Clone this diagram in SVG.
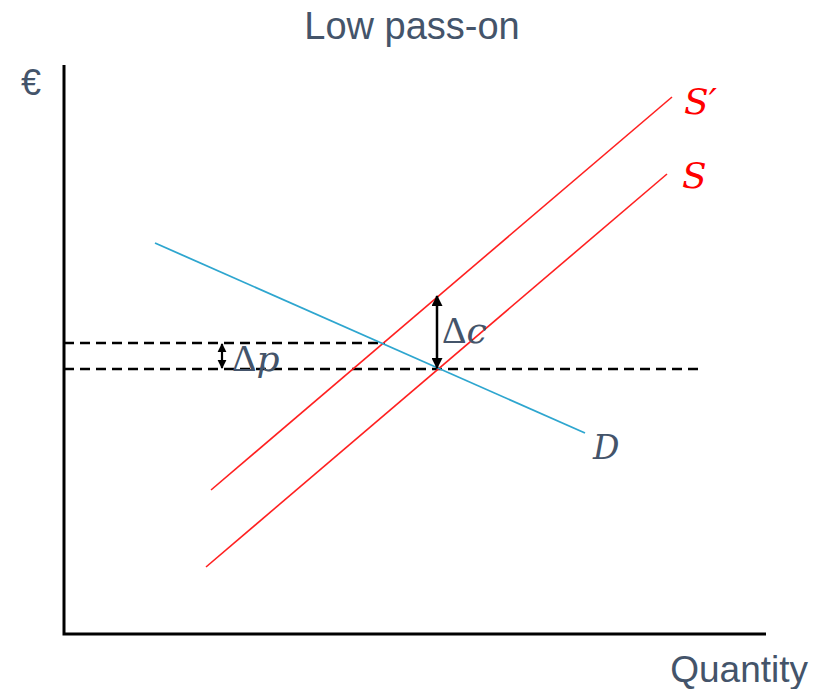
<svg xmlns="http://www.w3.org/2000/svg" width="817" height="689" viewBox="0 0 817 689">
<defs>
<style>
.lbl{font-family:"Liberation Sans",Arial,sans-serif;fill:#44546A;}
.math{font-family:"DejaVu Serif","Liberation Serif",serif;font-style:italic;}
.red{stroke:#FF2020;stroke-width:1.6;fill:none;}
.dash{stroke:#000;stroke-width:2.4;stroke-dasharray:10,6;fill:none;}
</style>
<marker id="ah" viewBox="0 0 10 10" refX="9" refY="5" markerWidth="5" markerHeight="4.4" orient="auto-start-reverse" markerUnits="strokeWidth">
<path d="M0,0 L10,5 L0,10 z" fill="#000"/>
</marker>
<marker id="ahs" viewBox="0 0 10 10" refX="9" refY="5" markerWidth="4" markerHeight="4.5" orient="auto-start-reverse" markerUnits="strokeWidth">
<path d="M0,0 L10,5 L0,10 z" fill="#000"/>
</marker>
</defs>
<rect width="817" height="689" fill="#fff"/>
<g id="title"><text class="lbl" x="412" y="39" font-size="38" text-anchor="middle">Low pass-on</text></g>
<g id="axes">
<path d="M64,65 V634 H766" stroke="#000" stroke-width="3" fill="none"/>
<text class="lbl" x="21" y="95" font-size="36">€</text>
<text class="lbl" x="808" y="682" font-size="37" text-anchor="end">Quantity</text>
</g>
<g id="connectors">
<line class="dash" x1="64" y1="343" x2="385" y2="343"/>
<line class="dash" x1="64" y1="369" x2="703" y2="369"/>
<line id="Sprime-line" class="red" x1="211" y1="490" x2="672" y2="97"/>
<line id="S-line" class="red" x1="206" y1="567" x2="667" y2="174"/>
<line id="D-line" x1="155" y1="243" x2="585" y2="433" stroke="#2EA6CF" stroke-width="1.8"/>
<line x1="437" y1="296" x2="437" y2="368" stroke="#000" stroke-width="2.5" marker-start="url(#ah)" marker-end="url(#ah)"/>
<line x1="222" y1="344" x2="222" y2="368" stroke="#000" stroke-width="2.2" marker-start="url(#ahs)" marker-end="url(#ahs)"/>
</g>
<g id="labels">
<text class="math" x="684" y="114" font-size="36" fill="#FF0000">S′</text>
<text class="math" x="682" y="188" font-size="36" fill="#FF0000">S</text>
<text class="math" x="593" y="459" font-size="33" fill="#44546A">D</text>
<text x="442" y="343" font-size="38" fill="#44546A" font-family="Liberation Serif,serif">Δ<tspan font-family="DejaVu Serif,serif" font-style="italic" font-size="36">c</tspan></text>
<text x="232" y="371" font-size="38" fill="#44546A" font-family="Liberation Serif,serif">Δ<tspan font-family="DejaVu Serif,serif" font-style="italic" font-size="36">p</tspan></text>
</g>
</svg>
